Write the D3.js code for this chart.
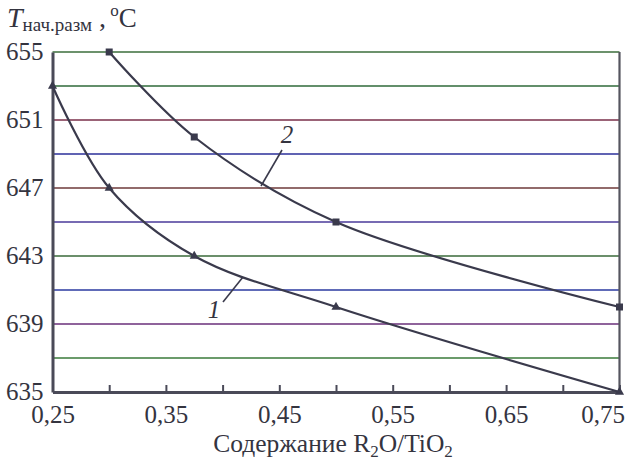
<html>
<head>
<meta charset="utf-8">
<script src="https://d3js.org/d3.v7.min.js"></script>
<style>
body {
	margin: 0;
	background: #fff;
}
</style>
</head>
<body>

<svg id="chart" width="629" height="460"></svg>

<script>

// R2O/TiO2 content vs temperature
var xs1 = [0.25, 0.30, 0.375, 0.50, 0.75]
var t1  = [653, 647, 643, 640, 635]

var xs2 = [0.30, 0.375, 0.50, 0.75]
var t2  = [655, 650, 645, 640]

var xTicks = [0.25, 0.30, 0.35, 0.40, 0.45, 0.50, 0.55, 0.60, 0.65, 0.70, 0.75]
var xLabels = [0.25, 0.35, 0.45, 0.55, 0.65, 0.75]
var yLabels = [635, 639, 643, 647, 651, 655]
var yGrid = [637, 639, 641, 643, 645, 647, 649, 651, 653, 655]

// scan colours of the grid lines, bottom to top
var gridColors = ["#3a7a3a", "#6a2f7a", "#2b3aa0", "#3a6a3a", "#4a3a9a",
	"#6e3a3a", "#2b2f9a", "#7a2f4a", "#2f6a3a", "#3b6e3b"]

var ink = "#3a3a4c"
var serif = "'Liberation Serif', 'DejaVu Serif', serif"

var svg = d3.select("#chart"),
	margin = {top: 52, left: 52.5, bottom: 68, right: 9.5},
	width = +svg.attr("width"),
	height = +svg.attr("height");

var x = d3.scaleLinear()
	.domain([0.25, 0.75])
	.range([margin.left, width - margin.right])

var y = d3.scaleLinear()
	.domain([635, 655])
	.range([height - margin.bottom, margin.top])

// grid
svg.append("g").selectAll("line")
	.data(yGrid)
	.enter().append("line")
		.attr("x1", x(0.25))
		.attr("x2", x(0.75))
		.attr("y1", d => y(d))
		.attr("y2", d => y(d))
		.attr("stroke", (d, i) => gridColors[i])
		.attr("stroke-width", 1.7)

// right border
svg.append("line")
	.attr("x1", x(0.75)).attr("x2", x(0.75))
	.attr("y1", y(655)).attr("y2", y(635))
	.attr("stroke", "#55555f")
	.attr("stroke-width", 2.2)

var fmt = d => d3.format(".2f")(d).replace(".", ",")

var xAxis = svg.append("g")
	.attr("transform", `translate(0,${y(635)})`)
	.call(d3.axisBottom(x)
		.tickValues(xTicks)
		.tickSize(-7)
		.tickSizeOuter(0)
		.tickFormat(d => xLabels.some(v => Math.abs(v - d) < 1e-9) ? fmt(d) : ""))

xAxis.select(".domain").attr("stroke", "#4a4a58").attr("stroke-width", 3)
xAxis.selectAll(".tick line").attr("stroke", "#4a4a58").attr("stroke-width", 2)
xAxis.selectAll(".tick text")
	.attr("y", 13)
	.attr("dy", "0.71em")
xAxis.selectAll(".tick").filter(d => d > 0.74).select("text")
	.attr("text-anchor", "end").attr("x", 5)

var yAxis = svg.append("g")
	.attr("transform", `translate(${x(0.25)},0)`)
	.call(d3.axisLeft(y)
		.tickValues(yLabels)
		.tickSize(0)
		.tickPadding(9)
		.tickFormat(d3.format("d")))

yAxis.select(".domain").attr("stroke", "#4a4a58").attr("stroke-width", 3)
yAxis.selectAll(".tick text")
	.attr("dy", "0.3em")

svg.selectAll(".tick text")
	.style("font-family", serif)
	.style("font-size", "25px")
	.attr("fill", "#34343f")

// curves
var line = d3.line()
	.x(d => x(d[0]))
	.y(d => y(d[1]))
	.curve(d3.curveCatmullRom.alpha(0.5))

var s1 = xs1.map((v, i) => [v, t1[i]])
var s2 = xs2.map((v, i) => [v, t2[i]])

svg.append("path")
	.datum(s1)
	.attr("d", line)
	.attr("fill", "none")
	.attr("stroke", ink)
	.attr("stroke-width", 2.2)

svg.append("path")
	.datum(s2)
	.attr("d", line)
	.attr("fill", "none")
	.attr("stroke", ink)
	.attr("stroke-width", 2.2)

svg.append("g").selectAll("path")
	.data(s1)
	.enter().append("path")
		.attr("transform", d => `translate(${x(d[0])},${y(d[1])})`)
		.attr("d", d3.symbol(d3.symbolTriangle, 36))
		.attr("fill", ink)

svg.append("g").selectAll("rect")
	.data(s2)
	.enter().append("rect")
		.attr("x", d => x(d[0]) - 3.5)
		.attr("y", d => y(d[1]) - 3.5)
		.attr("width", 7)
		.attr("height", 7)
		.attr("fill", ink)

// curve labels with leaders
svg.append("line")
	.attr("x1", 282).attr("y1", 150)
	.attr("x2", 261).attr("y2", 186)
	.attr("stroke", ink).attr("stroke-width", 1.6)
svg.append("text")
	.attr("x", 287).attr("y", 143)
	.attr("text-anchor", "middle")
	.style("font-family", serif)
	.style("font-size", "25px")
	.style("font-style", "italic")
	.attr("fill", "#34343f")
	.text("2")

svg.append("line")
	.attr("x1", 223).attr("y1", 302)
	.attr("x2", 243).attr("y2", 277)
	.attr("stroke", ink).attr("stroke-width", 1.6)
svg.append("text")
	.attr("x", 214).attr("y", 318)
	.attr("text-anchor", "middle")
	.style("font-family", serif)
	.style("font-size", "25px")
	.style("font-style", "italic")
	.attr("fill", "#34343f")
	.text("1")

// axis titles
var yt = svg.append("text")
	.attr("x", 7).attr("y", 27)
	.style("font-family", serif)
	.style("font-size", "28px")
	.attr("fill", "#34343f")
yt.append("tspan").style("font-style", "italic").text("T")
yt.append("tspan").style("font-size", "19px").attr("dy", 4).text("нач.разм")
yt.append("tspan").attr("dy", -4).text(" ,")
yt.append("tspan").style("font-size", "17px").attr("dy", -11).text(" o")
yt.append("tspan").attr("dy", 11).style("font-size", "27px").text("C")

var xt = svg.append("text")
	.attr("x", 333).attr("y", 452)
	.attr("text-anchor", "middle")
	.style("font-family", serif)
	.style("font-size", "25.5px")
	.attr("fill", "#34343f")
xt.append("tspan").text("Содержание R")
xt.append("tspan").style("font-size", "17px").attr("dy", 5).text("2")
xt.append("tspan").attr("dy", -5).text("O/TiO")
xt.append("tspan").style("font-size", "17px").attr("dy", 5).text("2")

</script>

</body>
</html>
